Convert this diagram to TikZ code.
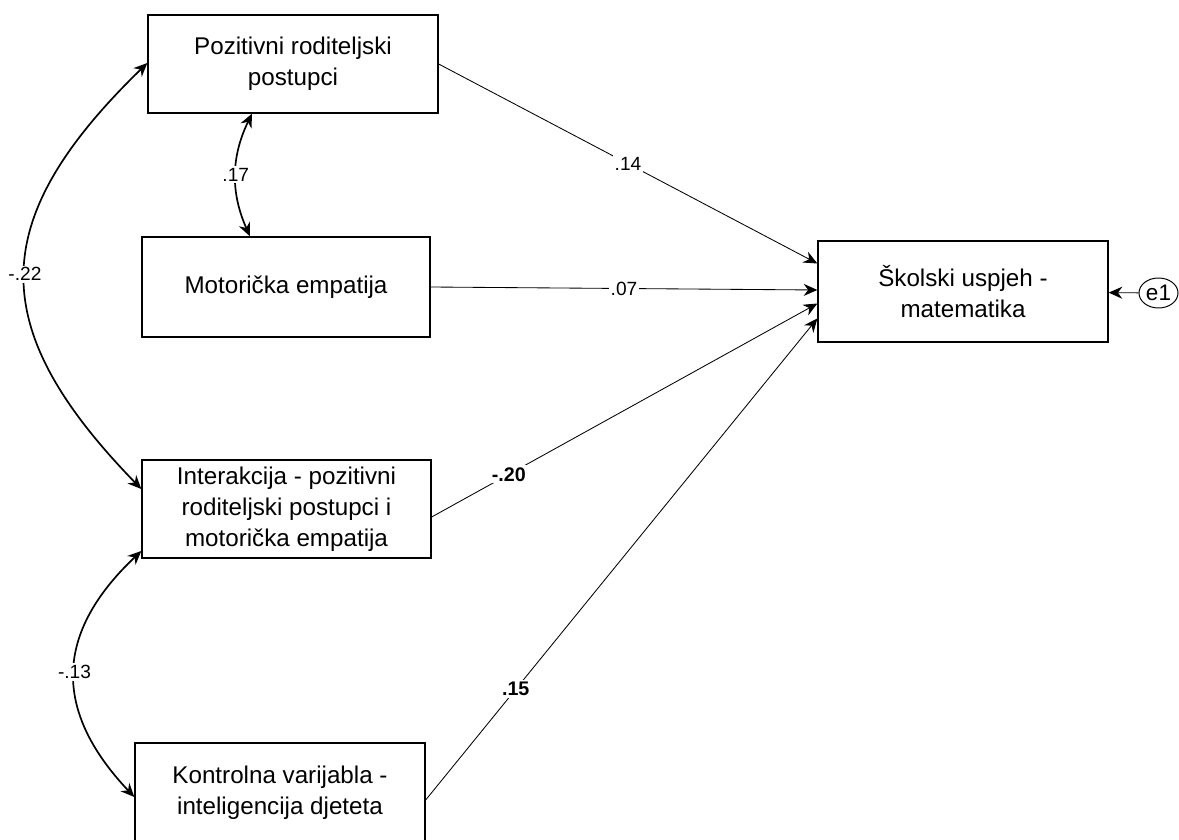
\documentclass[tikz,border=0pt]{standalone}
\usepackage{fontspec}
\setmainfont{Liberation Sans}
\usetikzlibrary{arrows.meta,calc,shapes.geometric}

\begin{document}
\begin{tikzpicture}[x=0.025cm,y=0.025cm,
    var/.style={draw,line width=0.9pt,align=center,inner sep=0pt,font=\fontsize{17.2}{22}\selectfont},
    err/.style={draw,ellipse,line width=0.7pt,minimum width=0.975cm,minimum height=0.75cm,inner sep=0pt,font=\fontsize{16}{16}\selectfont},
    coef/.style={fill=white,inner sep=1.5pt,font=\fontsize{13.6}{14}\selectfont},
    coefb/.style={coef,font=\fontsize{14}{15}\selectfont\bfseries},
    reg/.style={-{Stealth[length=0.34cm,width=0.3cm]},line width=0.6pt},
    cov/.style={{Stealth[length=0.34cm,width=0.3cm]}-{Stealth[length=0.34cm,width=0.3cm]},line width=1.2pt}]
      \useasboundingbox (0,0) rectangle (1179,-840);
      \draw
        (293,-64) node[var,minimum width=7.25cm,minimum height=2.45cm] (poz){Pozitivni roditeljski\\postupci}
        (286,-287) node[var,minimum width=7.2cm,minimum height=2.5cm] (mot){Motorička empatija}
        (286.5,-509) node[var,minimum width=7.225cm,minimum height=2.45cm] (int){Interakcija - pozitivni\\roditeljski postupci i\\motorička empatija}
        (280,-793) node[var,minimum width=7.25cm,minimum height=2.5cm] (kon){Kontrolna varijabla -\\inteligencija djeteta}
        (963,-291.5) node[var,minimum width=7.25cm,minimum height=2.525cm] (sko){Školski uspjeh -\\matematika}
        (1158.5,-293) node[err] (e1){e1};
      \begin{scope}[reg]
        \draw (poz.east) -- node[coef,pos=0.5] {.14} ($(sko.west)+(0,28)$);
        \draw (mot.east) -- node[coef,pos=0.5] {.07} ($(sko.west)+(0,1.5)$);
        \draw ($(int.east)+(0,-8)$) -- node[coefb,pos=0.2] {-.20} ($(sko.west)+(0,-12)$);
        \draw ($(kon.east)+(0,-7)$) -- node[coefb,pos=0.23] {.15} ($(sko.west)+(0,-27)$);
        \draw (e1) -- (sko);
      \end{scope}
      \begin{scope}[cov]
        \draw ($(poz.south)+(-41,0)$) to[bend right=25] node[coef] {.17} ($(mot.north)+(-36,0)$);
        \draw ($(poz.west)+(0,1)$) to[bend right=45,looseness=1.35] node[coef] {-.22} ($(int.west)+(0,20)$);
        \draw ($(int.west)+(0,-42)$) to[bend right=45,looseness=1.24] node[coef] {-.13} ($(kon.west)+(0,-4)$);
      \end{scope}
    \end{tikzpicture}
\end{document}
